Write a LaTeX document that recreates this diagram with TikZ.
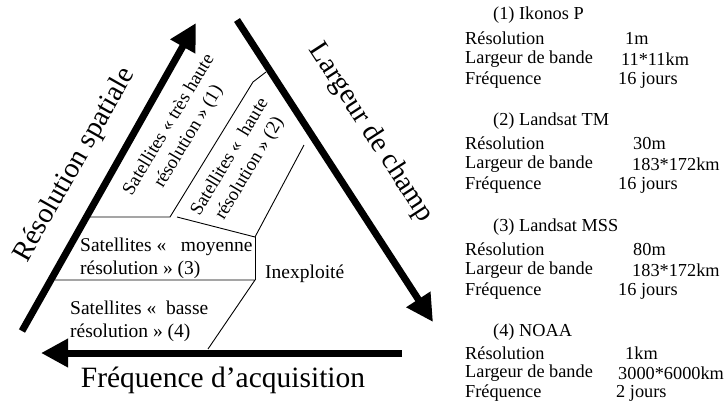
\documentclass[tikz,border=0pt]{standalone}
\usepackage{fontspec}
\setmainfont{Liberation Serif}
\usetikzlibrary{arrows.meta}
\begin{document}
\begin{tikzpicture}[x=1pt,y=-1pt,
  bigarrow/.style={line width=7pt,-{Triangle[length=27pt,width=27pt]}},
  thin/.style={line width=0.9pt},
  biglabel/.style={font=\fontsize{28.5}{30}\selectfont,inner sep=0pt},
  inlabel/.style={font=\fontsize{18.8}{23}\selectfont,inner sep=0pt,align=center},
  hlabel/.style={font=\fontsize{19.5}{23}\selectfont,inner sep=0pt,align=left,anchor=west},
  info/.style={font=\fontsize{18.3}{21}\selectfont,inner sep=0pt,anchor=west}]
\useasboundingbox (0,0) rectangle (726,405);
% thick arrows
\coordinate (rsA) at (22,331);
\coordinate (rsB) at (196,23);
\coordinate (lcA) at (237,20);
\coordinate (lcB) at (433,322);
\coordinate (fqA) at (402,353);
\coordinate (fqB) at (41,353);
\draw[bigarrow] (rsA) -- (rsB);
\draw[bigarrow] (lcA) -- (lcB);
\draw[bigarrow] (fqA) -- (fqB);
% inner boundaries
\coordinate (a1) at (90,217);
\coordinate (a2) at (170,217);
\coordinate (a3) at (253,82);
\coordinate (a4) at (266,72);
\coordinate (b1) at (177,217);
\coordinate (b2) at (255,237);
\coordinate (b3) at (304,145);
\coordinate (c1) at (55,280);
\coordinate (c2) at (255,280);
\coordinate (c3) at (208,349);
\draw[thin] (a1) -- (a2) -- (a3) -- (a4);
\draw[thin] (b1) -- (b2) -- (b3);
\draw[thin] (b2) -- (c2);
\draw[thin] (c1) -- (c2) -- (c3);
% axis labels
\node[biglabel,rotate=60.5] (rs) at (75,165) {Résolution spatiale};
\node[biglabel,rotate=-57] (lc) at (371,133) {Largeur de champ};
\node[biglabel,font=\fontsize{29.5}{31}\selectfont] (fq) at (223,380) {Fréquence d’acquisition};
% zone labels
\node[inlabel,rotate=59] (z1) at (179,131) {Satellites « très haute\\résolution » (1)};
\node[inlabel,rotate=59] (z2) at (240,163) {Satellites «\ \ haute\\résolution » (2)};
\node[hlabel] (z3) at (80,258) {Satellites «\ \ \ moyenne\\résolution » (3)};
\node[hlabel] (z4) at (70,321) {Satellites «\ \ basse\\résolution » (4)};
\node[hlabel] (z5) at (265,274) {Inexploité};
% info column
\node[info] (h1) at (493,15) {(1) Ikonos P};
\node[info] (r1) at (465,38) {Résolution};
\node[info] (l1) at (465,59) {Largeur de bande};
\node[info] (f1) at (465,80) {Fréquence};
\node[info] (r1v) at (625,38) {1m};
\node[info] (l1v) at (621,59) {11*11km};
\node[info] (f1v) at (618,80) {16 jours};
\node[info] (h2) at (493,121) {(2) Landsat TM};
\node[info] (r2) at (465,143) {Résolution};
\node[info] (l2) at (465,164) {Largeur de bande};
\node[info] (f2) at (465,185) {Fréquence};
\node[info] (r2v) at (633,143) {30m};
\node[info] (l2v) at (632,164) {183*172km};
\node[info] (f2v) at (618,185) {16 jours};
\node[info] (h3) at (493,227) {(3) Landsat MSS};
\node[info] (r3) at (465,249) {Résolution};
\node[info] (l3) at (465,270) {Largeur de bande};
\node[info] (f3) at (465,291) {Fréquence};
\node[info] (r3v) at (633,249) {80m};
\node[info] (l3v) at (632,270) {183*172km};
\node[info] (f3v) at (618,291) {16 jours};
\node[info] (h4) at (493,332) {(4) NOAA};
\node[info] (r4) at (465,353) {Résolution};
\node[info] (l4) at (465,373) {Largeur de bande};
\node[info] (f4) at (465,393) {Fréquence};
\node[info] (r4v) at (625,353) {1km};
\node[info] (l4v) at (618,373) {3000*6000km};
\node[info] (f4v) at (616,393) {2 jours};
\end{tikzpicture}
\end{document}
